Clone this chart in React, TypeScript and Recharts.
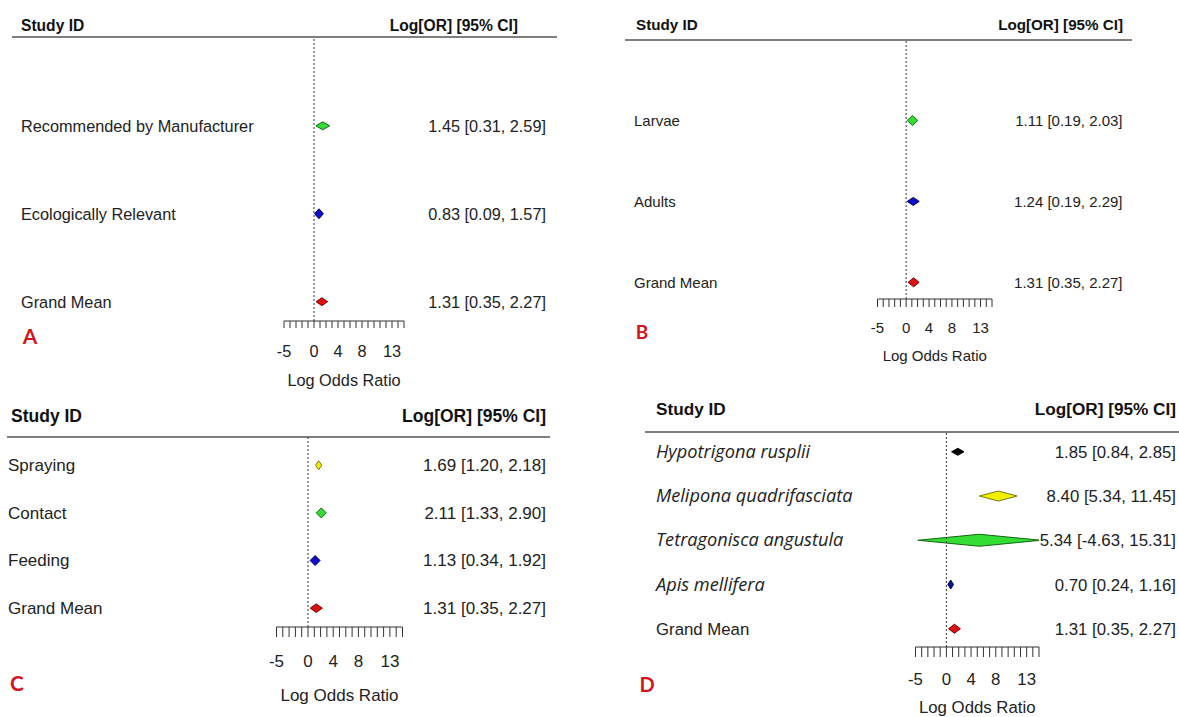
import React from "react";
import { ComposedChart, Bar, XAxis, YAxis, ReferenceLine, Customized } from "recharts";

// ── Data ───────────────────────────────────────────────────────────────
const A_LABELS = ["Recommended by Manufacturer", "Ecologically Relevant", "Grand Mean"];
const A_EST = [1.45, 0.83, 1.31];
const A_LO = [0.31, 0.09, 0.35];
const A_HI = [2.59, 1.57, 2.27];

const B_LABELS = ["Larvae", "Adults", "Grand Mean"];
const B_EST = [1.11, 1.24, 1.31];
const B_LO = [0.19, 0.19, 0.35];
const B_HI = [2.03, 2.29, 2.27];

const C_LABELS = ["Spraying", "Contact", "Feeding", "Grand Mean"];
const C_EST = [1.69, 2.11, 1.13, 1.31];
const C_LO = [1.20, 1.33, 0.34, 0.35];
const C_HI = [2.18, 2.90, 1.92, 2.27];

const D_LABELS = ["Hypotrigona rusplii", "Melipona quadrifasciata", "Tetragonisca angustula", "Apis mellifera", "Grand Mean"];
const D_EST = [1.85, 8.40, 5.34, 0.70, 1.31];
const D_LO = [0.84, 5.34, -4.63, 0.24, 0.35];
const D_HI = [2.85, 11.45, 15.31, 1.16, 2.27];

const AXIS_TICKS = [-5, -4, -3, -2, -1, 0, 1, 2, 3, 4, 5, 6, 7, 8, 9, 10, 11, 12, 13, 14, 15];
const AXIS_LABELS = [-5, 0, 4, 8, 13];
const AXIS_DOMAIN: [number, number] = [-5, 15];

// ── Styles ─────────────────────────────────────────────────────────────
const FONT = "'Liberation Sans', Arial, sans-serif";
const ITALIC_FONT = "'Open Sans', Lato, sans-serif";
const TEXT = "#222";
const LETTER_RED = "#d2161e";

const GREEN = { fill: "#33dd33", stroke: "#146614" };
const BLUE = { fill: "#1010c8", stroke: "#000060" };
const RED = { fill: "#dd1111", stroke: "#770000" };
const YELLOW = { fill: "#f0f000", stroke: "#77771a" };
const BLACK = { fill: "#000", stroke: "#000" };
const NAVY = { fill: "#16168e", stroke: "#000050" };

interface Panel {
  letter: string;
  left: number; top: number; width: number; height: number;
  labels: string[]; est: number[]; lo: number[]; hi: number[];
  colors: { fill: string; stroke: string }[];
  diamondH: number[];
  italic?: boolean[];
  rowDomain: [number, number];
  plotLeft: number; plotRight: number; headerLine: number; axisY: number;
  labelX: number; ciRight: number; font: number; italicFont?: number;
  headFont: number; headY: number; headLine: [number, number]; studyX: number; orRight: number;
  tickLen: number; tickLabelY: number; titleY: number;
  letterX: number; letterY: number; letterSize: number;
}

const PANELS: Panel[] = [
  {
    letter: "A", left: 0, top: 0, width: 590, height: 390,
    labels: A_LABELS, est: A_EST, lo: A_LO, hi: A_HI,
    colors: [GREEN, BLUE, RED], diamondH: [8, 10, 8],
    rowDomain: [-0.01, 3.22],
    plotLeft: 284, plotRight: 404, headerLine: 37, axisY: 321,
    labelX: 21, ciRight: 546, font: 16.3,
    headFont: 15.6, headY: 25, headLine: [12, 557], studyX: 21, orRight: 518,
    tickLen: 7, tickLabelY: 351, titleY: 380,
    letterX: 30, letterY: 336, letterSize: 21,
  },
  {
    letter: "B", left: 590, top: 0, width: 589, height: 390,
    labels: B_LABELS, est: B_EST, lo: B_LO, hi: B_HI,
    colors: [GREEN, BLUE, RED], diamondH: [10, 8, 9],
    rowDomain: [0, 3.2],
    plotLeft: 287.5, plotRight: 402, headerLine: 40, axisY: 299,
    labelX: 44, ciRight: 532.5, font: 15,
    headFont: 15.2, headY: 25, headLine: [35, 542], studyX: 46, orRight: 533,
    tickLen: 8, tickLabelY: 328, titleY: 356,
    letterX: 52, letterY: 332, letterSize: 19,
  },
  {
    letter: "C", left: 0, top: 390, width: 590, height: 327,
    labels: C_LABELS, est: C_EST, lo: C_LO, hi: C_HI,
    colors: [YELLOW, GREEN, BLUE, RED], diamondH: [9, 10, 10, 8.5],
    rowDomain: [0.41, 4.4],
    plotLeft: 276.5, plotRight: 402.5, headerLine: 47, axisY: 237,
    labelX: 8, ciRight: 546, font: 17,
    headFont: 17.5, headY: 26, headLine: [7, 550], studyX: 11, orRight: 546,
    tickLen: 10, tickLabelY: 271, titleY: 305,
    letterX: 17, letterY: 293, letterSize: 21,
  },
  {
    letter: "D", left: 590, top: 390, width: 589, height: 327,
    labels: D_LABELS, est: D_EST, lo: D_LO, hi: D_HI,
    colors: [BLACK, YELLOW, GREEN, NAVY, RED], diamondH: [7, 10, 12, 9, 9],
    italic: [true, true, true, true, false],
    rowDomain: [0.55, 5.41],
    plotLeft: 325.5, plotRight: 449, headerLine: 42, axisY: 257,
    labelX: 66, ciRight: 586, font: 16.8, italicFont: 18.2,
    headFont: 17.2, headY: 19, headLine: [55, 589], studyX: 66, orRight: 586,
    tickLen: 10, tickLabelY: 289, titleY: 317,
    letterX: 57, letterY: 295, letterSize: 20,
  },
];

// baseline for text whose visual middle sits at y
const mid = (y: number, fs: number) => y + fs * 0.36;

const fmt = (est: number, lo: number, hi: number) =>
  `${est.toFixed(2)} [${lo.toFixed(2)}, ${hi.toFixed(2)}]`;

// ── Diamond drawn over the bar's CI span ───────────────────────────────
function Diamond(props: any) {
  const { x, y, width, height, payload, panel } = props;
  const p: Panel = panel;
  const i = payload.row - 1;
  const cy = y + height / 2;
  const xe = x + (width * (payload.est - payload.lo)) / (payload.hi - payload.lo);
  const hh = p.diamondH[i] / 2;
  const c = p.colors[i];
  return (
    <polygon
      points={`${x},${cy} ${xe},${cy - hh} ${x + width},${cy} ${xe},${cy + hh}`}
      fill={c.fill}
      stroke={c.stroke}
      strokeWidth={1}
    />
  );
}

function ForestPanel({ p }: { p: Panel }) {
  const rows = p.labels.map((label, i) => ({
    row: i + 1,
    label,
    est: p.est[i],
    lo: p.lo[i],
    hi: p.hi[i],
    range: [p.lo[i], p.hi[i]],
    text: fmt(p.est[i], p.lo[i], p.hi[i]),
  }));
  const rowTicks = rows.map((r) => r.row);

  // study name on the left, estimate and CI on the right, on the same row
  const RowLabel = (tp: any) => {
    const r = rows[Math.round(tp.payload.value) - 1];
    if (!r) return null;
    const it = p.italic?.[r.row - 1];
    const by = mid(tp.y, p.font);
    return (
      <g>
        <text x={p.labelX} y={by} textAnchor="start"
          fontFamily={it ? ITALIC_FONT : FONT} fontStyle={it ? "italic" : "normal"}
          fontSize={it ? p.italicFont ?? p.font : p.font} fill={TEXT}>
          {r.label}
        </text>
        <text x={p.ciRight} y={by} textAnchor="end"
          fontFamily={FONT} fontSize={p.font} fill={TEXT}>
          {r.text}
        </text>
      </g>
    );
  };

  const AxisTick = (tp: any) => {
    const v = tp.payload.value;
    if (!AXIS_LABELS.includes(v)) return null;
    return (
      <text x={tp.x} y={mid(p.tickLabelY, p.font)} textAnchor="middle"
        fontFamily={FONT} fontSize={p.font} fill={TEXT}>
        {v}
      </text>
    );
  };

  const Header = () => (
    <g>
      <text x={p.studyX} y={mid(p.headY, p.headFont)} fontFamily={FONT} fontWeight="bold"
        fontSize={p.headFont} fill="#111">Study ID</text>
      <text x={p.orRight} y={mid(p.headY, p.headFont)} textAnchor="end" fontFamily={FONT}
        fontWeight="bold" fontSize={p.headFont} fill="#111">Log[OR] [95% CI]</text>
      <line x1={p.headLine[0]} x2={p.headLine[1]} y1={p.headerLine} y2={p.headerLine}
        stroke="#555" strokeWidth={1.6} />
      <text x={(p.plotLeft + p.plotRight) / 2} y={mid(p.titleY, p.font)} textAnchor="middle"
        fontFamily={FONT} fontSize={p.font} fill={TEXT}>Log Odds Ratio</text>
      <text x={p.letterX} y={mid(p.letterY, p.letterSize)} textAnchor="middle"
        fontFamily="Lato, sans-serif" fontWeight="bold" fontSize={p.letterSize}
        fill={LETTER_RED}>{p.letter}</text>
    </g>
  );

  return (
    <div style={{ position: "absolute", left: p.left, top: p.top }}>
      <ComposedChart
        width={p.width}
        height={p.height}
        data={rows}
        layout="vertical"
        margin={{ top: p.headerLine, right: p.width - p.plotRight, bottom: 0, left: 0 }}
      >
        <XAxis type="number" dataKey="est" domain={AXIS_DOMAIN} ticks={AXIS_TICKS} interval={0}
          allowDataOverflow height={p.height - p.axisY} tickSize={p.tickLen}
          axisLine={{ stroke: "#333", strokeWidth: 1 }} tickLine={{ stroke: "#333", strokeWidth: 1 }}
          tick={<AxisTick />} />
        <YAxis yAxisId="l" type="number" dataKey="row" domain={p.rowDomain} ticks={rowTicks}
          interval={0} allowDataOverflow width={p.plotLeft} axisLine={false} tickLine={false}
          tick={<RowLabel />} />
        <ReferenceLine yAxisId="l" x={0} stroke="#333" strokeWidth={1} strokeDasharray="2 2" />
        <Bar yAxisId="l" dataKey="range" barSize={14} isAnimationActive={false}
          shape={(bp: any) => <Diamond {...bp} panel={p} />} />
        <Customized component={<Header />} />
      </ComposedChart>
    </div>
  );
}

export default function App() {
  return (
    <div style={{ position: "absolute", left: 0, top: 0, width: 1179, height: 717, background: "#fff", overflow: "hidden" }}>
      {PANELS.map((p) => (
        <ForestPanel key={p.letter} p={p} />
      ))}
    </div>
  );
}
